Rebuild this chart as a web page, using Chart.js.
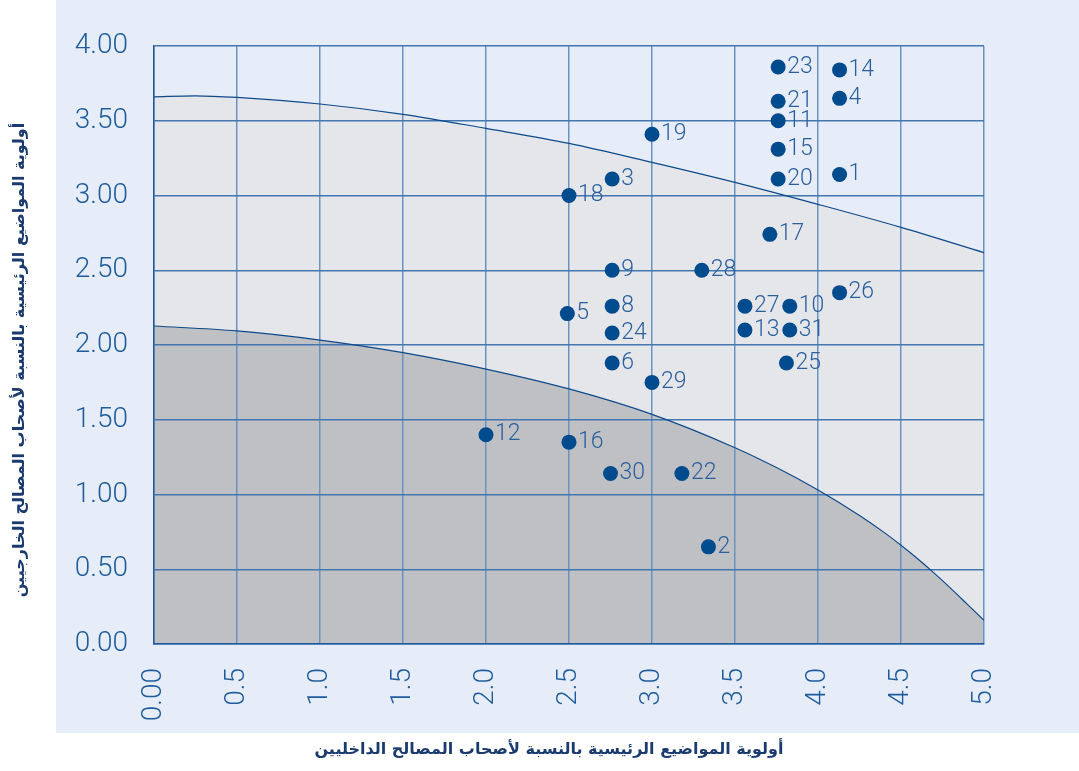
<!DOCTYPE html>
<html>
<head>
<meta charset="utf-8">
<script src="https://cdn.jsdelivr.net/npm/chart.js@4.4.1/dist/chart.umd.min.js"></script>
<style>
    body { margin: 0; background: #ffffff; }
    #wrap { position: relative; width: 1079px; height: 771px; }
    #panel { position: absolute; left: 56px; top: 0; width: 1023px; height: 733px; background: #e6edf8; }
    #chart { position: absolute; left: 0; top: 0; }
</style>
</head>
<body>
<div id="wrap">
    <div id="panel"></div>
    <canvas id="chart" width="1079" height="771"></canvas>
</div>
<script>
    // axis labels
    const xTickLabels = ["0.00", "0.5", "1.0", "1.5", "2.0", "2.5", "3.0", "3.5", "4.0", "4.5", "5.0"];
    const yTickLabels = ["0.00", "0.50", "1.00", "1.50", "2.00", "2.50", "3.00", "3.50", "4.00"];
    const xTitle = "أولوية المواضيع الرئيسية بالنسبة لأصحاب المصالح الداخليين";
    const yTitle = "أولوية المواضيع الرئيسية بالنسبة لأصحاب المصالح الخارجيين";

    // topics (no. 7 is not in the chart)
    const topicIds = [1, 2, 3, 4, 5, 6, 8, 9, 10, 11, 12, 13, 14, 15, 16, 17, 18, 19, 20, 21, 22, 23, 24, 25, 26, 27, 28, 29, 30, 31];
    const internalPriority = [4.13, 3.34, 2.76, 4.13, 2.49, 2.76, 2.76, 2.76, 3.83, 3.76, 2.00, 3.56, 4.13, 3.76, 2.50, 3.71, 2.50, 3.00, 3.76, 3.76, 3.18, 3.76, 2.76, 3.81, 4.13, 3.56, 3.30, 3.00, 2.75, 3.83];
    const externalPriority = [3.14, 0.65, 3.11, 3.65, 2.21, 1.88, 2.26, 2.50, 2.26, 3.50, 1.40, 2.10, 3.84, 3.31, 1.35, 2.74, 3.00, 3.41, 3.11, 3.63, 1.14, 3.86, 2.08, 1.88, 2.35, 2.26, 2.50, 1.75, 1.14, 2.10];

    // boundary curves
    const upperCurveX = [0, 0.25, 0.5, 1, 1.5, 2, 2.5, 3, 3.5, 4, 4.5, 5];
    const upperCurveY = [3.66, 3.667, 3.656, 3.612, 3.543, 3.449, 3.349, 3.222, 3.088, 2.941, 2.787, 2.618];
    const lowerCurveX = [0, 0.5, 1, 1.5, 2, 2.5, 3, 3.5, 3.75, 4, 4.25, 4.4, 4.5, 4.6, 4.7, 4.8, 4.9, 5];
    const lowerCurveY = [2.127, 2.094, 2.033, 1.949, 1.839, 1.706, 1.536, 1.313, 1.18, 1.03, 0.86, 0.745, 0.66, 0.57, 0.474, 0.372, 0.265, 0.158];

    const pts = (xs, ys) => xs.map((x, i) => ({ x: x, y: ys[i] }));

    // numbers next to the dots
    const pointLabels = {
        id: "pointLabels",
        afterDatasetsDraw(chart) {
            const ctx = chart.ctx;
            const meta = chart.getDatasetMeta(0);
            ctx.save();
            ctx.font = "300 23px Roboto";
            ctx.fillStyle = "#2a5f9e";
            ctx.textAlign = "left";
            ctx.textBaseline = "middle";
            meta.data.forEach((p, i) => {
                ctx.fillText(String(topicIds[i]), p.x + 9, p.y);
            });
            ctx.restore();
        },
    };

    // axis titles (outside the blue panel)
    const axisTitles = {
        id: "axisTitles",
        afterDraw(chart) {
            const ctx = chart.ctx;
            ctx.save();
            ctx.font = "bold 16px 'DejaVu Sans'";
            ctx.fillStyle = "#1b3b6f";
            ctx.textAlign = "center";
            ctx.textBaseline = "middle";
            ctx.fillText(xTitle, 549, 750);
            ctx.translate(20, 360);
            ctx.rotate(-Math.PI / 2);
            ctx.fillText(yTitle, 0, 0);
            ctx.restore();
        },
    };

    new Chart(document.getElementById("chart"), {
        type: "scatter",
        data: {
            datasets: [
                {
                    label: "topics",
                    data: pts(internalPriority, externalPriority),
                    backgroundColor: "#004b8d",
                    borderWidth: 0,
                    pointRadius: 7.5,
                    pointHoverRadius: 7.5,
                    order: 0,
                },
                {
                    label: "lower",
                    type: "line",
                    data: pts(lowerCurveX, lowerCurveY),
                    borderColor: "#0d4a8c",
                    borderWidth: 1.2,
                    backgroundColor: "#bfc0c3",
                    fill: "origin",
                    pointRadius: 0,
                    cubicInterpolationMode: "monotone",
                    order: 1,
                },
                {
                    label: "upper",
                    type: "line",
                    data: pts(upperCurveX, upperCurveY),
                    borderColor: "#0d4a8c",
                    borderWidth: 1.2,
                    backgroundColor: "#e4e6ea",
                    fill: "origin",
                    pointRadius: 0,
                    cubicInterpolationMode: "monotone",
                    order: 2,
                },
            ],
        },
        options: {
            responsive: false,
            animation: false,
            events: [],
            layout: {
                padding: { left: 0, top: 46, right: 95, bottom: 0 },
            },
            scales: {
                x: {
                    type: "linear",
                    min: 0,
                    max: 5,
                    afterFit: (scale) => { scale.height = 127; },
                    afterBuildTicks: (scale) => {
                        scale.ticks = xTickLabels.map((l, i) => ({ value: i * 0.5 }));
                    },
                    border: { display: true, color: "#1f5a9e", width: 1.5 },
                    grid: { color: "#6a93c1", lineWidth: 1.5, drawTicks: false },
                    ticks: {
                        callback: (v, i) => xTickLabels[i],
                        minRotation: 90,
                        maxRotation: 90,
                        padding: 24,
                        color: "#1f5c9c",
                        font: { family: "Roboto", size: 28, weight: "300" },
                    },
                },
                y: {
                    type: "linear",
                    min: 0,
                    max: 4,
                    afterFit: (scale) => { scale.width = 154; },
                    afterBuildTicks: (scale) => {
                        scale.ticks = yTickLabels.map((l, i) => ({ value: i * 0.5 }));
                    },
                    border: { display: true, color: "#1f5a9e", width: 1.5 },
                    grid: { color: "#4377b0", lineWidth: 1.5, drawTicks: false },
                    ticks: {
                        callback: (v, i) => yTickLabels[i],
                        padding: 26,
                        color: "#1f5c9c",
                        font: { family: "Roboto", size: 28, weight: "300" },
                    },
                },
            },
            plugins: {
                legend: { display: false },
                tooltip: { enabled: false },
                filler: { drawTime: "beforeDraw" },
            },
        },
        plugins: [pointLabels, axisTitles],
    });
</script>
</body>
</html>
